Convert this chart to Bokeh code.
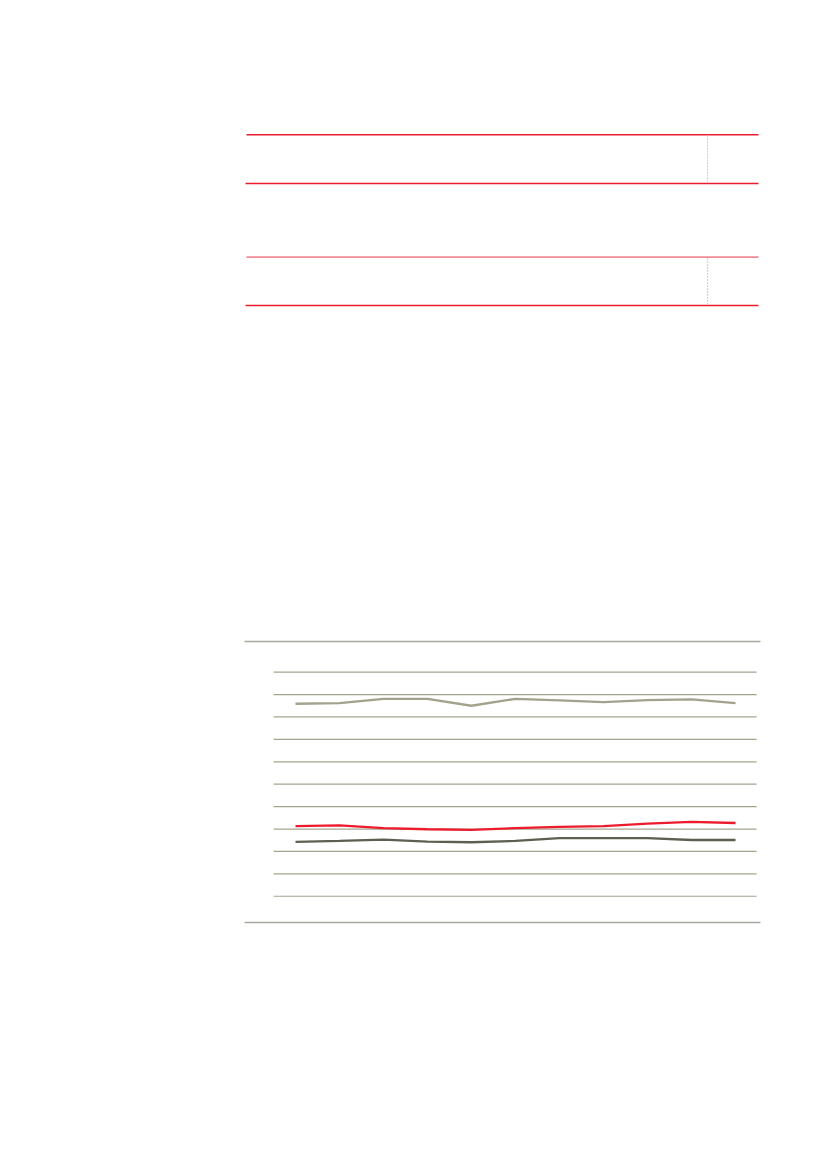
from bokeh.plotting import figure
from bokeh.models import Range1d, LinearAxis
from bokeh.layouts import column
from bokeh.embed import file_html
from bokeh.resources import INLINE

# ---- data (no labels are printed in the original) ----
periods = [0, 1, 2, 3, 4, 5, 6, 7, 8, 9, 10]
series_gray = [8.59, 8.62, 8.81, 8.81, 8.50, 8.81, 8.74, 8.66, 8.75, 8.78, 8.62]
series_red = [3.13, 3.16, 3.04, 2.99, 2.96, 3.04, 3.10, 3.13, 3.24, 3.32, 3.27]
series_dark = [2.43, 2.47, 2.53, 2.44, 2.41, 2.47, 2.59, 2.59, 2.59, 2.51, 2.51]
grid_values = [0, 1, 2, 3, 4, 5, 6, 7, 8, 9, 10]

# ---- styles ----
RED = "#EC1C2E"
LIGHT_RED = "#F08A94"
PINK = "#F6C2C8"
GRID = "#A5A58F"
BORDER = "#A9A9A2"
C_GRAY = "#A2A28D"
C_DARK = "#5C6051"

W = 827
FL, FR = 244, 760          # frame left / right (page px)
TOP_H = 320

# ---- top figure: table rules (page coordinates) ----
top = figure(width=W, height=TOP_H, output_backend="svg", toolbar_location=None,
             x_range=Range1d(FL, FR), y_range=Range1d(TOP_H, 0),
             x_axis_location=None, y_axis_location=None,
             min_border_left=FL, min_border_right=W - FR,
             min_border_top=0, min_border_bottom=0)
top.grid.visible = False
top.outline_line_color = None
top.background_fill_color = "white"
top.border_fill_color = "white"

top.segment(x0=[246, 245, 246, 245], x1=[758, 758, 758, 758],
            y0=[134.3, 183.0, 256.7, 305.0], y1=[134.3, 183.0, 256.7, 305.0],
            line_color=[RED, RED, LIGHT_RED, RED], line_width=[1.5, 1.5, 1.8, 1.5])
top.segment(x0=[707, 707], x1=[707, 707], y0=[135, 257.5], y1=[182.5, 304.5],
            line_color=PINK, line_width=1.2, line_dash="2 1")

# ---- chart figure ----
ch = figure(width=W, height=652, output_backend="svg", toolbar_location=None,
            x_range=Range1d(-1.159, 10.568), y_range=Range1d(-1.17, 11.366),
            x_axis_location=None, y_axis_location=None,
            min_border_left=FL, min_border_right=W - FR,
            min_border_top=641 - TOP_H, min_border_bottom=50)
ch.grid.visible = False
ch.outline_line_color = None
ch.background_fill_color = "white"
ch.border_fill_color = "white"

for loc in ("above", "below"):
    ax = LinearAxis(axis_line_color=BORDER, axis_line_width=1.6,
                    major_tick_line_color=None, minor_tick_line_color=None,
                    major_label_text_color=None, major_label_text_font_size="1px",
                    major_label_standoff=0)
    ch.add_layout(ax, loc)

gx0 = periods[0] - 0.5
gx1 = periods[-1] + 0.48
ch.segment(x0=[gx0] * len(grid_values), x1=[gx1] * len(grid_values),
           y0=grid_values, y1=grid_values, line_color=GRID, line_width=1.2)

ch.line(periods, series_gray, line_color=C_GRAY, line_width=2.3)
ch.line(periods, series_red, line_color=RED, line_width=2.3)
ch.line(periods, series_dark, line_color=C_DARK, line_width=2.3)

layout = column(top, ch, spacing=0)

with open("out.html", "w") as f:
    f.write(file_html(layout, INLINE))
